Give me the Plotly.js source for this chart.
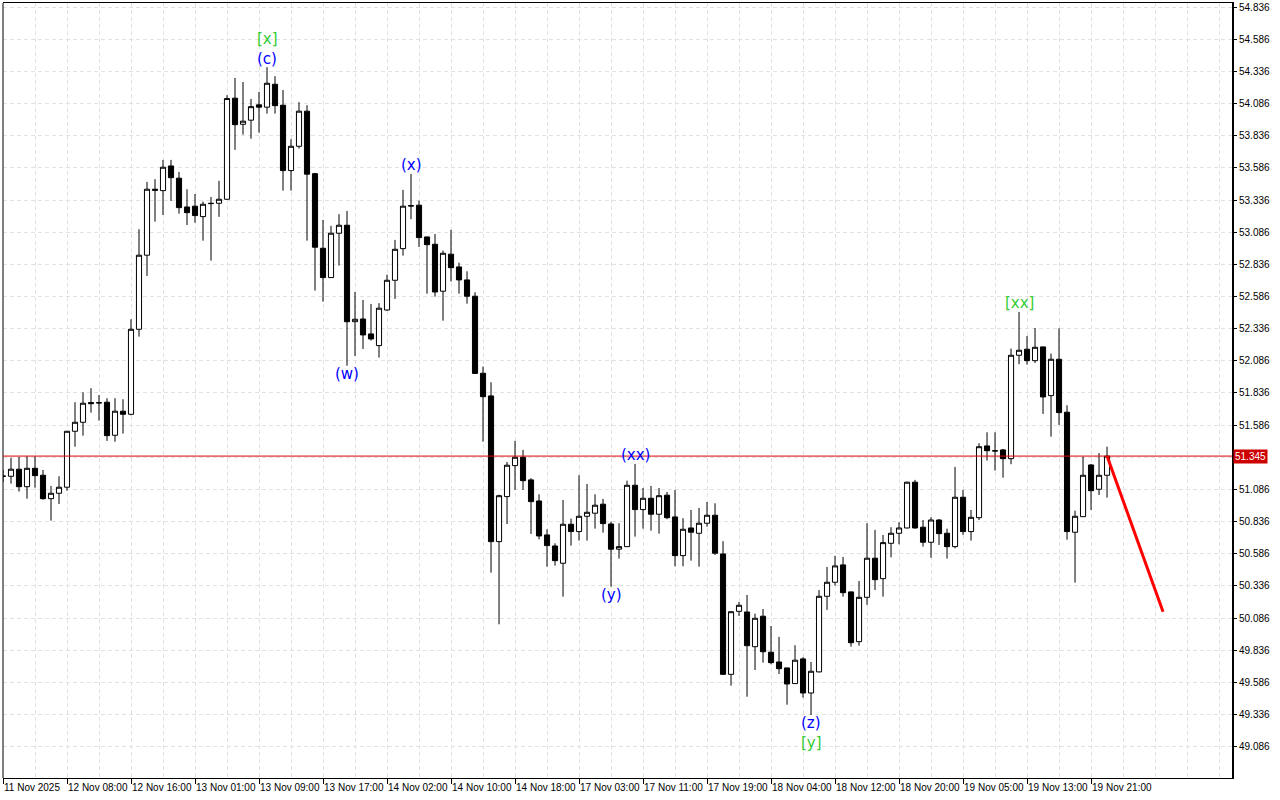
<!DOCTYPE html>
<html>
<head>
<meta charset="utf-8">
<script src="https://cdn.plot.ly/plotly-3.0.1.min.js"></script>
<style>html,body{margin:0;padding:0;background:#fff;}#chart{width:1280px;height:800px;}</style>
</head>
<body>
<div id="chart"></div>
<script>
// ---- data (H1 bars, index = bar number) ----
const openP = [51.190,51.188,51.243,51.107,51.250,51.196,51.014,51.056,51.103,51.538,
51.608,51.761,51.758,51.764,51.507,51.694,51.670,52.331,52.907,53.420,
53.409,53.601,53.506,53.282,53.288,53.207,53.308,53.311,53.342,54.128,
53.925,53.957,54.076,54.058,54.236,54.073,53.565,53.754,54.027,53.541,
52.961,52.733,53.078,53.140,52.390,52.411,52.295,52.204,52.481,52.712,
52.958,53.292,53.296,53.049,52.992,52.627,52.915,52.816,52.715,52.588,
51.989,51.813,50.680,51.030,51.271,51.336,51.160,50.996,50.732,50.646,
50.512,50.815,50.758,50.877,50.901,50.971,50.817,50.621,50.641,51.118,
50.929,51.017,50.893,51.041,50.872,50.571,50.786,50.745,50.823,50.885,
50.584,49.648,50.138,50.133,49.863,50.100,49.820,49.744,49.698,49.576,
49.768,49.503,49.667,50.255,50.364,50.499,50.289,49.902,50.247,50.551,
50.392,50.667,50.745,50.786,51.142,50.792,50.675,50.848,50.745,50.641,
51.025,50.758,50.866,51.424,51.387,51.393,51.325,52.129,52.176,52.087,
52.194,51.815,52.098,51.686,50.753,50.874,51.276,51.087,51.196];
const highP = [51.237,51.331,51.338,51.344,51.344,51.237,51.113,51.188,51.540,51.764,
51.841,51.873,51.820,51.795,51.795,51.787,52.409,53.109,53.477,53.498,
53.648,53.648,53.555,53.420,53.383,53.324,53.360,53.485,54.151,54.285,
54.254,54.122,54.177,54.369,54.299,54.192,53.809,54.097,54.073,53.547,
53.181,53.135,53.226,53.251,52.621,52.559,52.528,52.534,52.756,53.026,
53.415,53.539,53.331,53.052,53.072,52.943,53.104,52.849,52.782,52.619,
52.041,51.919,51.045,51.299,51.463,51.393,51.173,51.048,50.776,50.667,
51.004,50.859,51.196,51.128,51.048,51.012,50.835,50.823,51.154,51.284,
51.097,51.113,51.097,51.066,51.082,50.862,50.926,50.942,50.988,50.978,
50.683,50.140,50.211,50.265,50.120,50.156,50.024,49.939,49.700,49.874,
49.781,49.744,50.304,50.483,50.569,50.561,50.292,50.374,50.823,50.771,
50.732,50.792,50.831,51.146,51.160,50.848,50.869,50.856,50.781,51.261,
51.082,50.926,51.445,51.530,51.530,51.401,52.181,52.466,52.279,52.341,
52.196,52.142,52.339,51.740,50.921,51.341,51.284,51.369,51.418];
const lowP = [51.144,51.131,51.069,51.014,51.100,51.006,50.843,50.973,51.076,51.418,
51.504,51.683,51.621,51.463,51.457,51.520,51.662,52.274,52.746,53.168,
53.220,53.329,53.230,53.142,53.160,53.020,52.865,53.205,53.338,53.726,
53.845,53.813,53.860,54.008,54.008,53.409,53.409,53.736,53.020,52.632,
52.546,52.730,52.826,52.048,52.124,52.178,52.243,52.111,52.474,52.567,
52.904,53.187,52.971,52.608,52.585,52.398,52.702,52.608,52.530,51.984,
51.457,50.439,50.037,50.817,51.082,51.082,50.740,50.698,50.485,50.493,
50.252,50.649,50.688,50.688,50.781,50.750,50.330,50.548,50.638,50.719,
50.781,50.765,50.742,50.854,50.488,50.488,50.532,50.485,50.796,50.576,
49.645,49.560,50.102,49.474,49.682,49.739,49.726,49.651,49.412,49.573,
49.467,49.332,49.664,50.149,50.338,50.252,49.863,49.871,50.188,50.304,
50.252,50.558,50.659,50.783,50.781,50.641,50.555,50.654,50.548,50.628,
50.732,50.688,50.848,51.310,51.232,51.177,51.282,52.059,52.056,52.069,
51.673,51.496,51.587,50.695,50.361,50.871,50.926,51.043,51.022];
const closeP = [51.188,51.243,51.107,51.250,51.193,51.014,51.056,51.103,51.538,51.608,
51.756,51.753,51.760,51.504,51.694,51.670,52.331,52.907,53.420,53.412,
53.591,53.510,53.277,53.238,53.215,53.303,53.310,53.342,54.125,53.922,
53.949,54.062,54.058,54.244,54.070,53.565,53.754,54.027,53.537,52.969,
52.733,53.078,53.140,52.390,52.409,52.287,52.256,52.495,52.712,52.953,
53.288,53.290,53.044,52.989,52.621,52.922,52.810,52.715,52.588,51.988,
51.807,50.680,51.037,51.274,51.336,51.154,50.991,50.724,50.649,50.532,
50.815,50.758,50.877,50.908,50.963,50.820,50.621,50.641,51.118,50.929,
51.017,50.893,51.037,50.866,50.571,50.776,50.753,50.823,50.885,50.590,
49.648,50.135,50.185,49.871,50.084,49.824,49.739,49.692,49.573,49.758,
49.503,49.672,50.255,50.364,50.491,50.283,49.894,50.247,50.551,50.384,
50.672,50.745,50.786,51.142,50.786,50.675,50.848,50.742,50.641,51.025,
50.758,50.869,51.418,51.387,51.385,51.325,52.129,52.168,52.087,52.191,
51.805,52.098,51.683,50.758,50.877,51.196,51.076,51.196,51.345];

// time-axis labels (every 8th bar)
const timeTickIdx = [0,8,16,24,32,40,48,56,64,72,80,88,96,104,112,120,128,136];
const timeTickText = ["11 Nov 2025","12 Nov 08:00","12 Nov 16:00","13 Nov 01:00","13 Nov 09:00",
"13 Nov 17:00","14 Nov 02:00","14 Nov 10:00","14 Nov 18:00","17 Nov 03:00","17 Nov 11:00",
"17 Nov 19:00","18 Nov 04:00","18 Nov 12:00","18 Nov 20:00","19 Nov 05:00","19 Nov 13:00","19 Nov 21:00"];

// price-axis labels
const priceTicks = [49.086,49.336,49.586,49.836,50.086,50.336,50.586,50.836,51.086,51.336,
51.586,51.836,52.086,52.336,52.586,52.836,53.086,53.336,53.586,53.836,54.086,54.336,54.586,54.836];

const currentPrice = 51.345;

// forecast arrow (bar index, price)
const projX = [138, 145];
const projY = [51.345, 50.135];

// wave labels: bar index, text, anchored at high/low, colour group
const waveIdx   = [33, 33, 51, 43, 79, 76, 101, 101, 127];
const waveText  = ["[x]", "(c)", "(x)", "(w)", "(xx)", "(y)", "(z)", "[y]", "[xx]"];
const waveSide  = ["high","high","high","low","high","low","low","low","high"];
const waveLevel = [2, 1, 1, 1, 1, 1, 1, 2, 1];
const waveColor = ["#33cc33","#0000ff","#0000ff","#0000ff","#0000ff","#0000ff","#0000ff","#33cc33","#33cc33"];

// ---- build chart ----
const barIdx = openP.map((_, i) => i);

const candles = {
  type: 'candlestick',
  x: barIdx, open: openP, high: highP, low: lowP, close: closeP,
  increasing: {line: {color: '#000000', width: 1}, fillcolor: '#ffffff'},
  decreasing: {line: {color: '#000000', width: 1}, fillcolor: '#000000'},
  whiskerwidth: 0,
  hoverinfo: 'skip',
  showlegend: false
};

const proj = {
  type: 'scatter', mode: 'lines',
  x: projX, y: projY,
  line: {color: '#ff0000', width: 3},
  hoverinfo: 'skip', showlegend: false
};

const annotations = waveIdx.map((idx, k) => {
  const isHigh = waveSide[k] === 'high';
  const base = isHigh ? highP[idx] : lowP[idx];
  const shift = (isHigh ? 1 : -1) * (waveLevel[k] === 1 ? 8.5 : 28);
  return {
    x: idx, y: base, xref: 'x', yref: 'y',
    text: waveText[k], showarrow: false,
    yanchor: 'middle', xanchor: 'center', yshift: shift,
    font: {family: 'DejaVu Sans', size: 15, color: waveColor[k]}
  };
});
annotations.push({
  xref: 'paper', x: 1, xanchor: 'left', xshift: 1,
  yref: 'y', y: currentPrice, yanchor: 'middle',
  text: currentPrice.toFixed(3), showarrow: false,
  bgcolor: '#cc0000', borderpad: 1,
  font: {family: 'Liberation Sans', size: 10, color: '#ffffff'}
});

const gridCol = '#e2e2e2';
const layout = {
  width: 1280, height: 800, autosize: false,
  margin: {l: 3, r: 48, t: 3, b: 22, pad: 0},
  paper_bgcolor: '#ffffff', plot_bgcolor: '#ffffff',
  boxgap: 0.2, boxgroupgap: 0.2,
  showlegend: false,
  xaxis: {
    type: 'linear', range: [0, 153.62],
    rangeslider: {visible: false},
    tickmode: 'array', tickvals: timeTickIdx, ticktext: timeTickText,
    tickangle: 0, ticklabelposition: 'outside right', ticklabeloverflow: 'allow',
    ticks: 'outside', ticklen: 5, tickcolor: '#000', tickwidth: 1,
    tickfont: {family: 'Liberation Sans', size: 10, color: '#000'},
    showgrid: true, gridcolor: gridCol, griddash: '4px,3px', gridwidth: 1,
    minor: {tickmode: 'linear', tick0: 0, dtick: 4, showgrid: true, gridcolor: gridCol, griddash: '4px,3px', gridwidth: 1, ticks: ''},
    showline: true, linecolor: '#000', linewidth: 1, mirror: true,
    zeroline: false, fixedrange: true
  },
  yaxis: {
    side: 'right', range: [48.842, 54.868],
    tickmode: 'array', tickvals: priceTicks,
    ticktext: priceTicks.map(v => Math.abs(v - currentPrice) < 0.05 ? '' : v.toFixed(3)),
    ticks: 'outside', ticklen: 3, tickcolor: '#000', tickwidth: 1,
    tickfont: {family: 'Liberation Sans', size: 10, color: '#000'},
    showgrid: true, gridcolor: gridCol, griddash: '4px,3px', gridwidth: 1,
    showline: true, linecolor: '#000', linewidth: 2, mirror: false,
    zeroline: false, fixedrange: true
  },
  shapes: [
    {type: 'line', xref: 'paper', yref: 'paper', x0: 0, x1: 0, y0: 0, y1: 1, line: {color: '#000', width: 1}},
    {type: 'line', xref: 'paper', yref: 'y', x0: 0, x1: 1, y0: currentPrice, y1: currentPrice, line: {color: '#e00000', width: 1}, layer: 'above'}
  ],
  annotations: annotations
};

Plotly.newPlot('chart', [candles, proj], layout, {displayModeBar: false, staticPlot: true});
</script>
</body>
</html>
